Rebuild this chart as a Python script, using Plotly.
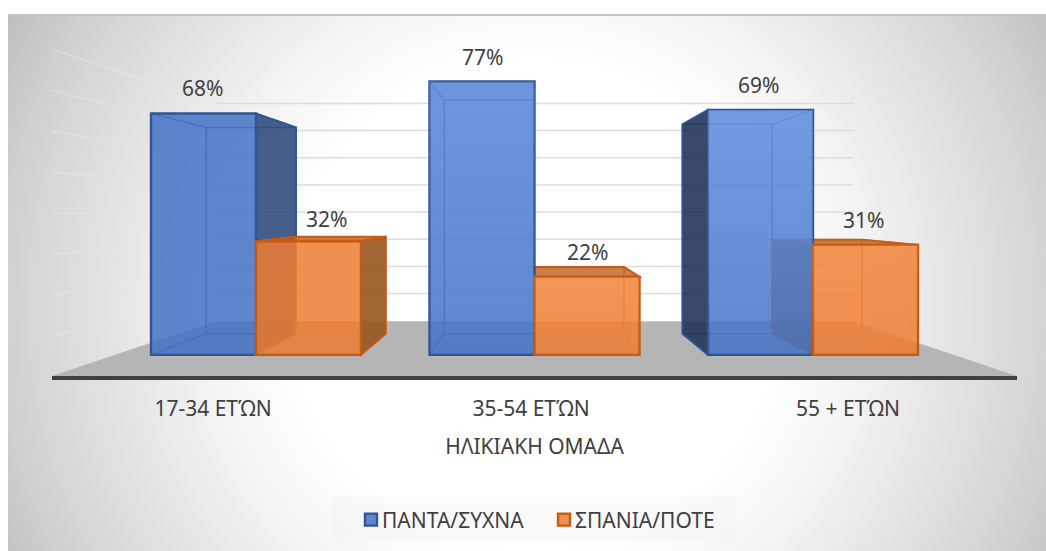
import urllib.parse
import plotly.graph_objects as go

categories = ["17-34 ΕΤΏΝ", "35-54 ΕΤΏΝ", "55 + ΕΤΏΝ"]
series_a_name = "ΠΑΝΤΑ/ΣΥΧΝΑ"
series_b_name = "ΣΠΑΝΙΑ/ΠΟΤΕ"
series_a = [68, 77, 69]
series_b = [32, 22, 31]
grid_values = [0, 10, 20, 30, 40, 50, 60, 70, 80]
axis_title = "ΗΛΙΚΙΑΚΗ ΟΜΑΔΑ"

# layout constants (pixels of the 1046x551 page)
W, H = 1046, 551
L, R, T, B = 52, 1017, 20, 377
BASE = 355.8
PX_X, PX_Y = 278.5, 3.56
CX0 = 256
x_px = lambda p: (p - CX0) / PX_X
y_px = lambda p: (BASE - p) / PX_Y
BAR_W = 105 / PX_X
VX, VY = x_px(532), y_px(210)
S_BACK, S_WALL, S_FRONT = 0.855, 0.765, 1.157
FONT = "Noto Sans"
TXT = "#404040"
A_EDGE, A_IN, A_FILL = "#2f5597", "#3f6cc4", "rgba(68,114,196,0.85)"
B_EDGE, B_IN, B_FILL = "#c55a11", "#e8772e", "rgba(237,125,49,0.85)"
A_SIDES = ["rgba(50,77,125,0.9)", "rgba(50,77,125,0.9)", "rgba(36,52,85,0.9)"]
B_SIDE = "rgba(150,85,30,0.9)"
B_TOP = "rgba(190,95,30,0.8)"
A_GLOW = [0.0, 0.3, 0.42]
B_GLOW = [0.0, 0.2, 0.2]
label_dx = [[-1, 0, -2], [18, 0, -2]]
label_dy = [[25, 25, 25], [22, 25, 25]]
tick_pos = [x_px(213), x_px(531), x_px(848)]


def proj(x, y, s):
    return VX + (x - VX) * s, VY + (y - VY) * s


def poly(pts, fill="rgba(0,0,0,0)", line="rgba(0,0,0,0)", w=1.5):
    d = "M" + " L".join(f"{a:.4f} {b:.4f}" for a, b in pts) + " Z"
    return dict(type="path", path=d, xref="x", yref="y", layer="below",
                fillcolor=fill, line=dict(color=line, width=w))


shapes = []
# floor
shapes.append(poly([(x_px(L), y_px(B)), (x_px(R), y_px(B)), (x_px(853), y_px(322)), (x_px(215), y_px(322))],
                   fill="#b5b5b5"))
# walls
for g in grid_values[1:]:
    p_l = proj(-0.5, g, S_FRONT)
    p_m = proj(-0.5, g, S_WALL)
    p_r = proj(2.5, g, S_WALL)
    shapes.append(dict(type="line", xref="x", yref="y", layer="below", x0=p_l[0], y0=p_l[1],
                       x1=p_m[0], y1=p_m[1], line=dict(color="rgba(232,232,232,0.55)", width=1.5)))
    shapes.append(dict(type="line", xref="x", yref="y", layer="below", x0=p_m[0], y0=p_m[1],
                       x1=p_r[0], y1=p_r[1], line=dict(color="#dcdcdc", width=1.5)))


def bar_faces(x0, x1, v, edge, inner, side, top):
    out = []
    f = [(x0, 0), (x1, 0), (x1, v), (x0, v)]
    b = [proj(x, y, S_BACK) for x, y in f]
    # back face edges
    out.append(poly(b, line=inner))
    # inner edges
    for i in range(4):
        out.append(dict(type="line", xref="x", yref="y", layer="below", x0=f[i][0], y0=f[i][1],
                        x1=b[i][0], y1=b[i][1], line=dict(color=inner, width=1.5)))
    # visible outside side faces
    if b[1][0] > x1:
        out.append(poly([f[1], b[1], b[2], f[2]], fill=side, line=edge, w=1.8))
    if b[0][0] < x0:
        out.append(poly([f[0], b[0], b[3], f[3]], fill=side, line=edge, w=1.8))
    if b[2][1] > v:
        out.append(poly([f[3], f[2], b[2], b[3]], fill=top, line=edge, w=1.8))
    return out


for i in range(len(categories)):
    shapes += bar_faces(i - BAR_W, i, series_a[i], A_EDGE, A_IN, A_SIDES[i], A_SIDES[i])
    shapes += bar_faces(i, i + BAR_W, series_b[i], B_EDGE, B_IN, B_SIDE, B_TOP)

# legend band
shapes.append(dict(type="rect", xref="paper", yref="paper", layer="below",
                   x0=(333 - L) / (R - L), x1=(735 - L) / (R - L),
                   y0=(B - 543) / (B - T), y1=(B - 498) / (B - T),
                   fillcolor="rgba(240,240,240,0.3)", line=dict(width=0)))

xs = list(range(len(categories)))
fig = go.Figure()
fig.add_trace(go.Bar(x=xs, y=series_a, name=series_a_name, hoverinfo="skip",
                     marker=dict(color=A_FILL, line=dict(color=A_EDGE, width=2.4))))
fig.add_trace(go.Bar(x=xs, y=series_b, name=series_b_name, hoverinfo="skip",
                     marker=dict(color=B_FILL, line=dict(color=B_EDGE, width=2.4))))


def glow(x0, x1, v, colour, a):
    fig.add_trace(go.Scatter(
        x=[x0, x1, x1, x0, x0], y=[0, 0, v, v, 0], mode="none", fill="toself",
        showlegend=False, hoverinfo="skip",
        fillgradient=dict(type="vertical", colorscale=[[0, f"rgba({colour},0)"], [1, f"rgba({colour},{a})"]])))


for i in xs:
    if A_GLOW[i]:
        glow(i - BAR_W, i, series_a[i], "140,185,255", A_GLOW[i])
    if B_GLOW[i]:
        glow(i, i + BAR_W, series_b[i], "255,170,110", B_GLOW[i])

annots = []
for k, vals in enumerate([series_a, series_b]):
    for i, v in enumerate(vals):
        cx = i - BAR_W / 2 if k == 0 else i + BAR_W / 2
        annots.append(dict(x=cx, y=v, text=f"{v}%", showarrow=False, xref="x", yref="y",
                           yshift=label_dy[k][i], xshift=label_dx[k][i],
                           font=dict(family=FONT, size=21, color=TXT)))

svg = ('<svg xmlns="http://www.w3.org/2000/svg" width="1038" height="537">'
       '<defs><radialGradient id="g" gradientUnits="userSpaceOnUse" cx="525" cy="290" r="600">'
       '<stop offset="0" stop-color="#ffffff"/><stop offset="0.4" stop-color="#ffffff"/>'
       '<stop offset="0.55" stop-color="#f4f4f4"/><stop offset="0.87" stop-color="#d2d2d2"/>'
       '<stop offset="1" stop-color="#bebebe"/></radialGradient></defs>'
       '<rect width="1038" height="537" fill="url(#g)"/>'
       '<rect width="1038" height="2" fill="#c4c4c4"/></svg>')
src = "data:image/svg+xml," + urllib.parse.quote(svg)

fig.update_layout(
    width=W, height=H, margin=dict(l=L, r=W - R, t=T, b=H - B, pad=0),
    paper_bgcolor="white", plot_bgcolor="rgba(0,0,0,0)",
    barmode="group", bargap=1 - 2 * BAR_W, bargroupgap=0,
    shapes=shapes, annotations=annots,
    images=[dict(source=src, xref="paper", yref="paper", x=(8 - L) / (R - L), y=(B - 14) / (B - T),
                 sizex=1040 / (R - L), sizey=540 / (B - T), sizing="stretch", layer="below",
                 xanchor="left", yanchor="top")],
    xaxis=dict(range=[x_px(L), x_px(R)], tickmode="array", tickvals=tick_pos, ticktext=categories,
               showgrid=False, zeroline=False, showline=True, linecolor="#404040", linewidth=3.5,
               ticks="outside", ticklen=11, tickcolor="rgba(0,0,0,0)",
               tickfont=dict(family=FONT, size=21, color=TXT),
               title=dict(text=axis_title, standoff=19, font=dict(family=FONT, size=21, color=TXT))),
    yaxis=dict(range=[y_px(B), y_px(T)], visible=False),
    showlegend=True,
    legend=dict(orientation="h", x=(351 - L) / (R - L), xanchor="left", y=(B - 520) / (B - T),
                yanchor="middle", font=dict(family=FONT, size=21, color=TXT),
                bgcolor="rgba(0,0,0,0)", itemwidth=30, entrywidth=148, entrywidthmode="pixels"),
)

fig.write_html("out.html", config=dict(displayModeBar=False),
               post_script="document.body.style.margin='0';"
                           "document.querySelectorAll('.legendtext').forEach(function(t){"
                           "t.setAttribute('x', parseFloat(t.getAttribute('x'))-9);});")
